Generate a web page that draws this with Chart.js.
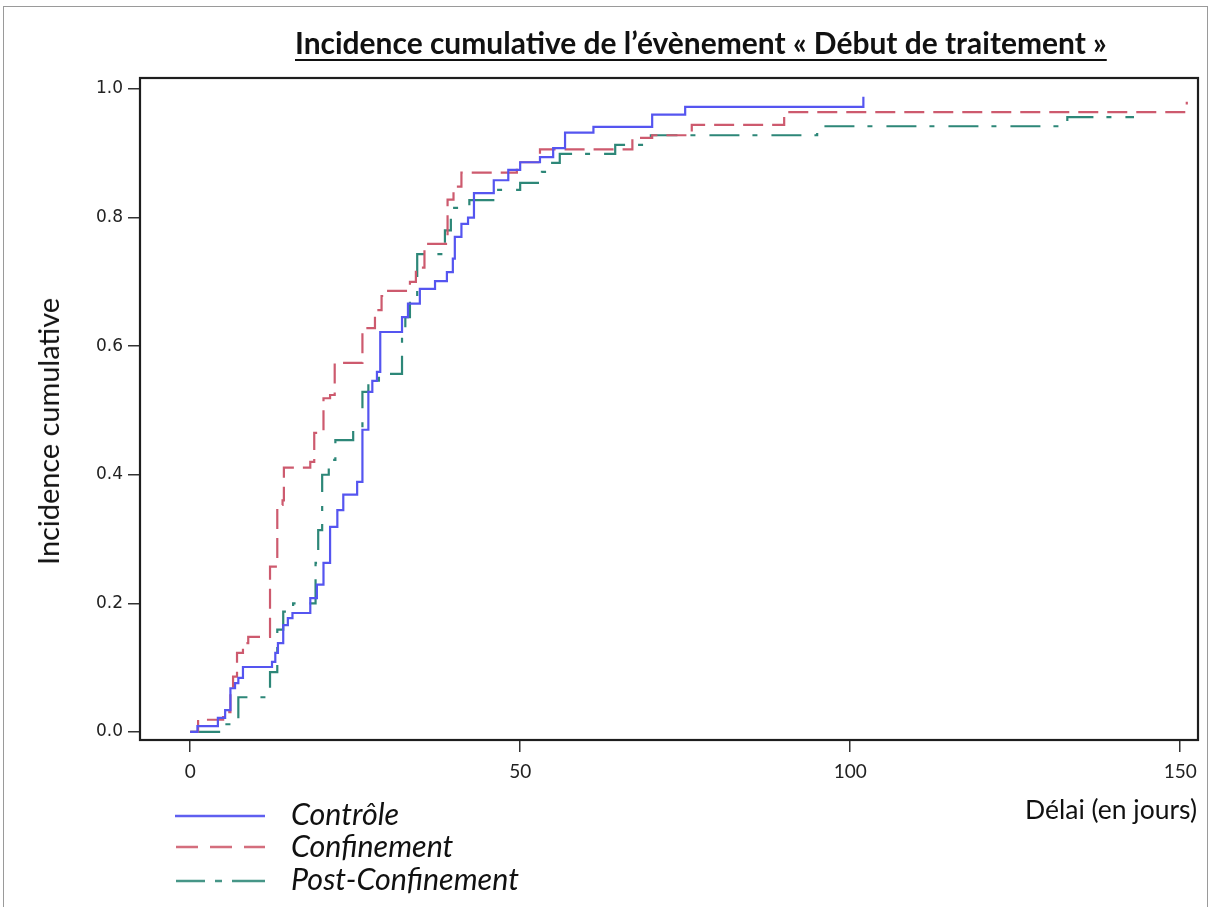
<!DOCTYPE html>
<html><head><meta charset="utf-8">
<script src="https://cdn.jsdelivr.net/npm/chart.js@4.4.0/dist/chart.umd.min.js"></script>
<style>
html,body{margin:0;padding:0;background:#fff;width:1212px;height:907px;overflow:hidden;position:relative;}
#frame{position:absolute;left:3px;top:6px;width:1203px;height:930px;border:1.5px solid #9a9a9a;border-bottom:none;}
#c{position:absolute;left:0;top:0;}
.txt{position:absolute;white-space:nowrap;color:#111;font-family:Lato,'Open Sans',sans-serif;line-height:1;}
#title{font-weight:700;text-decoration:underline;text-decoration-thickness:2px;text-underline-offset:5px;}
.leg{font-style:italic;}
#leg{position:absolute;left:170px;top:795px;}
</style>
</head><body>
<div id="frame"></div>
<canvas id="c" width="1212" height="907"></canvas>
<div class="txt" id="title">Incidence cumulative de l’évènement « Début de traitement »</div>
<div class="txt" id="ytitle">Incidence cumulative</div>
<div class="txt" id="xtitle">Délai (en jours)</div>
<svg id="leg" width="115" height="100">
  <line x1="5" y1="21" x2="95" y2="21" stroke="rgb(95,95,240)" stroke-width="2.5"/>
  <line x1="6" y1="52" x2="95" y2="52" stroke="rgb(212,110,125)" stroke-width="2.5" stroke-dasharray="22 12"/>
  <line x1="6" y1="86" x2="95" y2="86" stroke="rgb(70,150,135)" stroke-width="2.5" stroke-dasharray="29 10 7 10 34"/>
</svg>
<div class="txt leg" id="l1">Contrôle</div>
<div class="txt leg" id="l2">Confinement</div>
<div class="txt leg" id="l3">Post-Confinement</div>
<script>
// ---- data (days, cumulative incidence) ----
const seriesNames = ['Contrôle', 'Confinement', 'Post-Confinement'];
const controleDays = [0, 1.1, 4.2, 5.3, 6.1, 6.8, 7.3, 8.0, 12.4, 12.9, 13.3, 14.1, 14.8, 15.5, 18.2, 19.2, 20.2, 21.2, 22.3, 23.2, 25.3, 26.1, 27.0, 27.6, 28.3, 28.8, 32.1, 33.0, 34.8, 37.1, 38.9, 39.8, 40.1, 41.1, 42.1, 43.0, 46.0, 48.2, 50.0, 53.0, 55.0, 56.8, 61.1, 70.0, 75.0, 102.0];
const controleValues = [0, 0.009, 0.022, 0.034, 0.068, 0.076, 0.084, 0.101, 0.109, 0.123, 0.138, 0.166, 0.177, 0.185, 0.208, 0.229, 0.263, 0.319, 0.345, 0.369, 0.389, 0.470, 0.529, 0.546, 0.560, 0.622, 0.645, 0.666, 0.689, 0.701, 0.715, 0.736, 0.770, 0.790, 0.800, 0.838, 0.858, 0.874, 0.886, 0.894, 0.908, 0.932, 0.941, 0.960, 0.972, 0.988];
const confinementDays = [0, 1.2, 5.0, 6.1, 6.5, 7.1, 8.0, 8.8, 12.1, 13.2, 14.0, 14.2, 18.2, 18.8, 20.2, 21.2, 21.9, 26.1, 28.0, 29.0, 29.5, 33.3, 34.2, 35.5, 39.0, 39.9, 41.1, 49.5, 53.0, 67.0, 70.0, 76.0, 90.0, 151.0];
const confinementValues = [0, 0.019, 0.031, 0.065, 0.086, 0.123, 0.138, 0.148, 0.257, 0.353, 0.360, 0.411, 0.420, 0.465, 0.519, 0.524, 0.574, 0.628, 0.656, 0.678, 0.686, 0.700, 0.722, 0.759, 0.828, 0.848, 0.870, 0.886, 0.906, 0.924, 0.928, 0.944, 0.964, 0.980];
const postDays = [0, 5.5, 7.3, 12.1, 13.2, 14.1, 14.8, 15.6, 19.0, 19.4, 20.0, 21.0, 22.0, 24.7, 26.1, 27.0, 28.6, 32.1, 32.6, 33.3, 34.4, 38.6, 39.5, 42.3, 46.5, 50.0, 53.3, 54.1, 56.0, 64.4, 69.8, 95.0, 132.9, 143.0];
const postValues = [0, 0.012, 0.054, 0.093, 0.159, 0.187, 0.194, 0.200, 0.263, 0.314, 0.400, 0.423, 0.454, 0.471, 0.529, 0.543, 0.557, 0.620, 0.645, 0.670, 0.743, 0.780, 0.815, 0.827, 0.843, 0.854, 0.871, 0.885, 0.899, 0.913, 0.928, 0.942, 0.956, 0.956];
const xTicks = [0, 50, 100, 150];
const yTicks = [0, 0.2, 0.4, 0.6, 0.8, 1.0];

const pts = (d, v) => d.map((x, i) => ({x: x, y: v[i]}));

// ---- text placement ----
function fit(el, target) {
  el.style.fontSize = '100px';
  const w = el.offsetWidth;
  const s = 100 * target / w;
  el.style.fontSize = s + 'px';
  return s;
}
function place(el, left, baseline, s) { el.style.left = left + 'px'; el.style.top = (baseline - 0.887 * s) + 'px'; }
const tEl = document.getElementById('title');
let s = fit(tEl, 812); place(tEl, 295, 55, s);
const l3 = document.getElementById('l3');
s = fit(l3, 228);
['l1','l2'].forEach(id => document.getElementById(id).style.fontSize = s + 'px');
place(document.getElementById('l1'), 291, 825, s);
place(document.getElementById('l2'), 291, 857, s);
place(l3, 291, 890, s);
const xt = document.getElementById('xtitle');
s = fit(xt, 172); place(xt, 1197 - xt.offsetWidth, 820, s);
const yt = document.getElementById('ytitle');
s = fit(yt, 267);
const yw = yt.offsetWidth, yh = yt.offsetHeight;
yt.style.left = (48 - yw / 2) + 'px'; yt.style.top = (431 - yh / 2) + 'px';
yt.style.transform = 'rotate(-90deg)';

const framePlugin = {
  id: 'frameBox',
  afterDatasetsDraw(chart) {
    const {ctx, chartArea: a} = chart;
    ctx.save(); ctx.strokeStyle = '#1e1e1e'; ctx.lineWidth = 2.2;
    ctx.strokeRect(a.left, a.top, a.right - a.left, a.bottom - a.top);
    ctx.restore();
  }
};

new Chart(document.getElementById('c'), {
  type: 'line',
  data: {
    datasets: [
      {label: seriesNames[0], data: pts(controleDays, controleValues), stepped: true, borderColor: 'rgb(85,85,240)', borderWidth: 2.2, pointRadius: 0, fill: false},
      {label: seriesNames[1], data: pts(confinementDays, confinementValues), stepped: true, borderColor: 'rgb(205,90,110)', borderWidth: 2.2, borderDash: [20, 9], pointRadius: 0, fill: false},
      {label: seriesNames[2], data: pts(postDays, postValues), stepped: true, borderColor: 'rgb(45,135,120)', borderWidth: 2.2, borderDash: [30, 13, 5, 14], pointRadius: 0, fill: false}
    ]
  },
  options: {
    responsive: false, animation: false,
    layout: {padding: {left: 0, right: 14, top: 78, bottom: 0}},
    plugins: {legend: {display: false}, tooltip: {enabled: false}},
    scales: {
      x: {
        type: 'linear', min: -7.6, max: 152.7,
        afterBuildTicks: a => { a.ticks = xTicks.map(v => ({value: v})); },
        afterFit: a => { a.height = 167; },
        grid: {drawOnChartArea: false, tickLength: 12, color: '#333', lineWidth: 1.5},
        border: {display: false},
        ticks: {padding: 8, color: '#222', font: {family: 'Lato', size: 19}, maxRotation: 0, callback: v => String(v)}
      },
      y: {
        type: 'linear', min: -0.0125, max: 1.017,
        afterBuildTicks: a => { a.ticks = yTicks.map(v => ({value: v})); },
        afterFit: a => { a.width = 140; },
        grid: {drawOnChartArea: false, tickLength: 12, color: '#333', lineWidth: 1.5},
        border: {display: false},
        ticks: {padding: 5, color: '#222', font: {family: 'DejaVu Sans', size: 17}, callback: v => Number(v).toFixed(1)}
      }
    }
  },
  plugins: [framePlugin]
});
</script>
</body></html>
